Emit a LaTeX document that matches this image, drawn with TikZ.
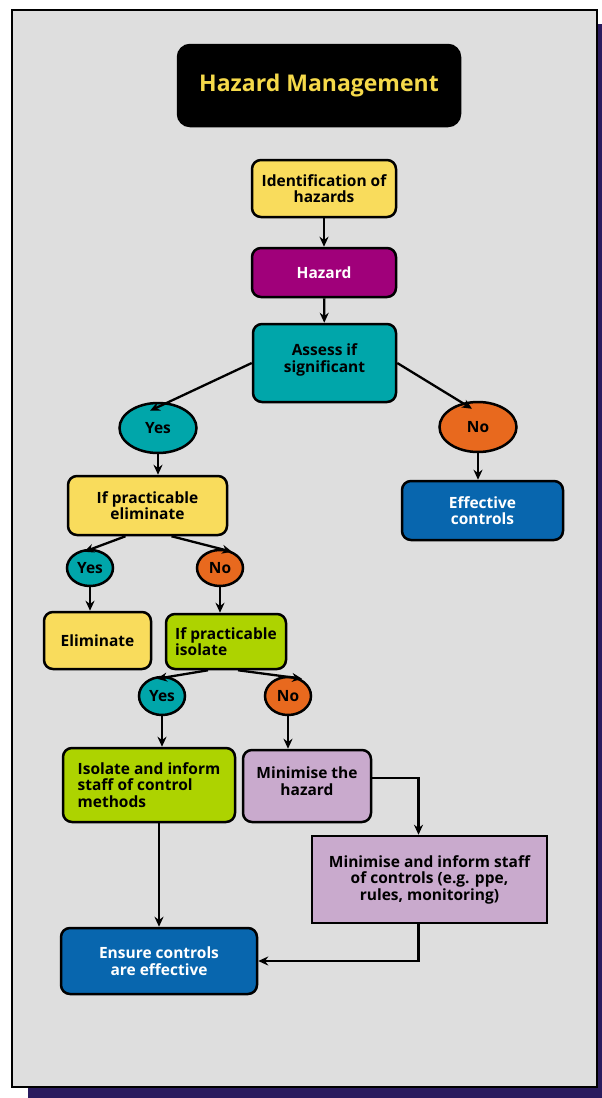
\documentclass[tikz,border=0pt]{standalone}
\usepackage{fontspec}
\setmainfont{Open Sans}
\usetikzlibrary{shapes.geometric,arrows.meta,calc}
\definecolor{bg}{HTML}{DEDEDE}
\definecolor{shadowc}{HTML}{2A1B5E}
\definecolor{cyellow}{HTML}{F9DC5C}
\definecolor{cpurple}{HTML}{A0007A}
\definecolor{cteal}{HTML}{00A6AA}
\definecolor{corange}{HTML}{E8691E}
\definecolor{cblue}{HTML}{0866AE}
\definecolor{clime}{HTML}{ADD300}
\definecolor{clilac}{HTML}{C9AACD}
\definecolor{ctitle}{HTML}{F5D94A}
\begin{document}
\begin{tikzpicture}[x=1pt,y=-1pt,
  box/.style={draw=black, line width=2.5pt, rounded corners=9pt, inner sep=0pt,
    font=\fontsize{15.5}{16.5}\selectfont\bfseries, align=center},
  oval/.style={ellipse, draw=black, line width=2.5pt, inner sep=0pt,
    font=\fontsize{15.5}{16.5}\selectfont\bfseries},
  arr/.style={line width=2.3pt, -{Stealth[length=10pt,width=9pt]}}]
\useasboundingbox (0,0) rectangle (602,1098);
% frame and shadow
\fill[shadowc] (28,24) rectangle (602,1098);
\draw[fill=bg, line width=2.6pt] (12,10) rectangle (597,1087);
% title
\node[box, fill=black, rounded corners=12pt, minimum width=282pt, minimum height=81pt,
  text=ctitle, font=\fontsize{23}{26}\selectfont\bfseries] (title) at (319,85.5) {Hazard Management};
% nodes
\node[box, fill=cyellow, minimum width=144pt, minimum height=57pt] (ident) at (324,188.5) {Identification of\\hazards};
\node[box, fill=cpurple, text=white, minimum width=144pt, minimum height=49pt] (hazard) at (324,272.5) {Hazard};
\node[box, fill=cteal, minimum width=143pt, minimum height=78pt] (assess) at (324.5,363) {Assess if\\significant\\[-7pt]};
\node[oval, fill=cteal, minimum width=77pt, minimum height=50pt] (yes1) at (158,428) {Yes};
\node[oval, fill=corange, minimum width=77pt, minimum height=50pt] (no1) at (478,427) {No};
\node[box, fill=cblue, text=white, minimum width=161pt, minimum height=59pt] (eff) at (482.5,510.5) {Effective\\controls};
\node[box, fill=cyellow, minimum width=159pt, minimum height=59pt] (elim) at (147.5,505.5) {If practicable\\eliminate};
\node[oval, fill=cteal, minimum width=46pt, minimum height=36pt] (yes2) at (90,568) {Yes};
\node[oval, fill=corange, minimum width=46pt, minimum height=36pt] (no2) at (220,568) {No};
\node[box, fill=cyellow, minimum width=107pt, minimum height=57pt] (elimbox) at (97.5,640.5) {Eliminate};
\node[box, fill=clime, minimum width=120pt, minimum height=55pt, align=left] (iso) at (226,641.5) {If practicable\\isolate};
\node[oval, fill=cteal, minimum width=46pt, minimum height=38pt] (yes3) at (162,696) {Yes};
\node[oval, fill=corange, minimum width=46pt, minimum height=38pt] (no3) at (288,696) {No};
\node[box, fill=clime, minimum width=172pt, minimum height=74pt, align=left] (isoinf) at (149,785) {Isolate and inform\\staff of control\\methods};
\node[box, fill=clilac, minimum width=128pt, minimum height=72pt] (minhaz) at (307,786) {Minimise the\\hazard\\[-7pt]};
\node[box, fill=clilac, rounded corners=0pt, minimum width=235pt, minimum height=87pt] (mininf) at (429.5,879.5) {Minimise and inform staff\\of controls (e.g. ppe,\\rules, monitoring)};
\node[box, fill=cblue, text=white, minimum width=196pt, minimum height=66pt] (ensure) at (159,961) {Ensure controls\\are effective};
% connectors
\draw[arr] (ident) -- (hazard);
\draw[arr] (hazard) -- (assess);
\draw[arr] (assess.west) -- ($(yes1.north)+(-8,9)$);
\draw[arr] (assess.east) -- ($(no1.north)+(-6,8)$);
\draw[arr] (no1.south) -- (no1 |- eff.north);
\draw[arr] (yes1.south) -- (yes1 |- elim.north);
\draw[arr] ($(elim.south)+(-22,0)$) -- ($(yes2.north)+(-6,3)$);
\draw[arr] ($(elim.south)+(24,0)$) -- ($(no2.north)+(12,3)$);
\draw[arr] (yes2.south) -- (yes2 |- elimbox.north);
\draw[arr] (no2.south) -- (no2 |- iso.north);
\draw[arr] ($(iso.south)+(-18,0)$) -- ($(yes3.north)+(-5,3)$);
\draw[arr] ($(iso.south)+(12,0)$) -- ($(no3.north)+(14,3)$);
\draw[arr] (yes3.south) -- (yes3 |- isoinf.north);
\draw[arr] (no3.south) -- (no3 |- minhaz.north);
\draw[arr] ($(minhaz.east)+(0,-8)$) -| ($(mininf.north)+(-11,0)$);
\draw[arr] ($(mininf.south)+(-11,0)$) |- (ensure.east);
\draw[arr] (ensure.north |- isoinf.south) -- (ensure.north);
\end{tikzpicture}
\end{document}
